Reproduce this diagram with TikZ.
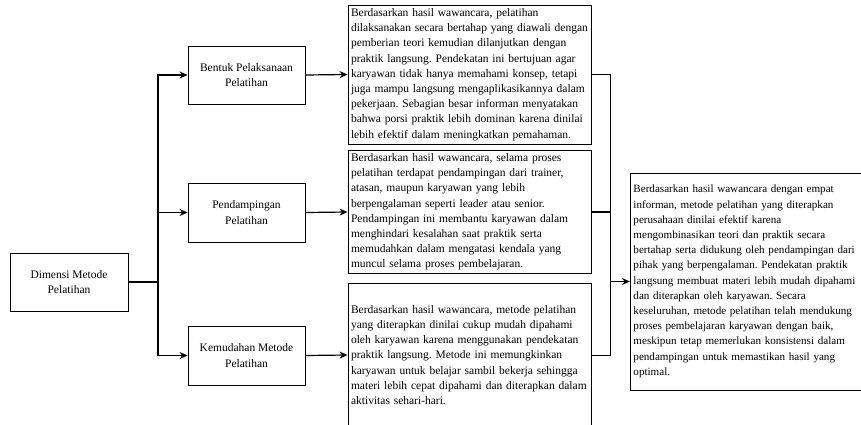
\documentclass[tikz,border=0pt]{standalone}
\usepackage{fontspec}
\setmainfont{Liberation Serif}
\usetikzlibrary{arrows.meta}
\frenchspacing
\begin{document}
\begin{tikzpicture}[x=1pt,y=-1pt,
  every node/.style={font=\fontsize{11.5pt}{15.2pt}\selectfont},
  smallbox/.style={draw=black,line width=0.9pt,minimum width=117pt,minimum height=58pt,align=center,inner sep=2pt},
  textbox/.style={draw=black,line width=0.9pt,minimum width=243pt,align=left,inner xsep=3pt,text width=237pt},
  conn/.style={line width=1.2pt,black},
  arr/.style={conn,-{Stealth[length=8pt,width=7pt]}}]
\useasboundingbox (0,0) rectangle (861,425);
\node[smallbox,minimum width=118pt] (dim) at (69,282) {Dimensi Metode\\Pelatihan};
\node[smallbox] (bentuk) at (246.5,75) {Bentuk Pelaksanaan\\Pelatihan};
\node[smallbox,minimum height=59pt] (pend) at (246.5,212.5) {Pendampingan\\Pelatihan};
\node[smallbox,minimum height=59pt] (kem) at (246.5,355.5) {Kemudahan Metode\\Pelatihan};
\node[textbox,minimum height=139pt] (b1) at (469.5,74.5) {Berdasarkan hasil wawancara, pelatihan\\dilaksanakan secara bertahap yang diawali dengan\\pemberian teori kemudian dilanjutkan dengan\\praktik langsung. Pendekatan ini bertujuan agar\\karyawan tidak hanya memahami konsep, tetapi\\juga mampu langsung mengaplikasikannya dalam\\pekerjaan. Sebagian besar informan menyatakan\\bahwa porsi praktik lebih dominan karena dinilai\\lebih efektif dalam meningkatkan pemahaman.};
\node[textbox,minimum height=118pt] (b2) at (469.5,212) {Berdasarkan hasil wawancara, selama proses\\pelatihan terdapat pendampingan dari trainer,\\atasan, maupun karyawan yang lebih\\berpengalaman seperti leader atau senior.\\Pendampingan ini membantu karyawan dalam\\menghindari kesalahan saat praktik serta\\memudahkan dalam mengatasi kendala yang\\muncul selama proses pembelajaran.};
\node[textbox,minimum height=144pt] (b3) at (469.5,355) {Berdasarkan hasil wawancara, metode pelatihan\\yang diterapkan dinilai cukup mudah dipahami\\oleh karyawan karena menggunakan pendekatan\\praktik langsung. Metode ini memungkinkan\\karyawan untuk belajar sambil bekerja sehingga\\materi lebih cepat dipahami dan diterapkan dalam\\aktivitas sehari-hari.};
\node[textbox,minimum width=241pt,text width=235pt,minimum height=217pt,anchor=west,font=\fontsize{11.1pt}{15.2pt}\selectfont] (res) at (630,281.5) {Berdasarkan hasil wawancara dengan empat\\informan, metode pelatihan yang diterapkan\\perusahaan dinilai efektif karena\\mengombinasikan teori dan praktik secara\\bertahap serta didukung oleh pendampingan dari\\pihak yang berpengalaman. Pendekatan praktik\\langsung membuat materi lebih mudah dipahami\\dan diterapkan oleh karyawan. Secara\\keseluruhan, metode pelatihan telah mendukung\\proses pembelajaran karyawan dengan baik,\\meskipun tetap memerlukan konsistensi dalam\\pendampingan untuk memastikan hasil yang\\optimal.};
\coordinate (tj) at (158,282);
\coordinate (rj) at (610,281.5);
\draw[conn] (dim.east) -- (tj);
\draw[arr] (tj) |- (bentuk.west);
\draw[arr] (tj) |- (pend.west);
\draw[arr] (tj) |- (kem.west);
\draw[arr] (bentuk.east) -- (b1.west);
\draw[arr] (pend.east) -- (b2.west);
\draw[arr] (kem.east) -- (b3.west);
\draw[line width=0.9pt] (b1.east) -| (rj);
\draw[line width=0.9pt] (b3.east) -| (rj);
\draw[conn] (b2.east) -- (b2.east -| rj);
\draw[arr] (rj) -- (res.west);
\end{tikzpicture}
\end{document}
